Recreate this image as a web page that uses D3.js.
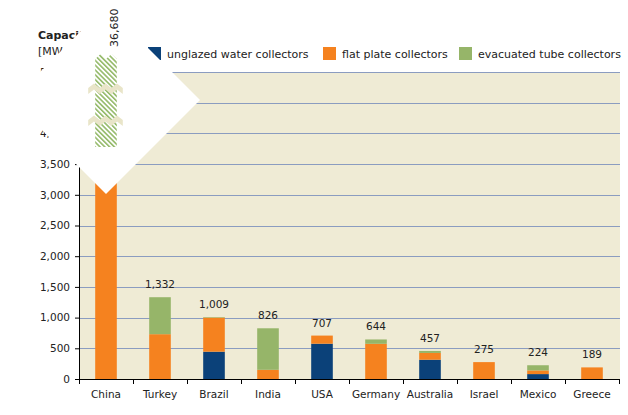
<!DOCTYPE html>
<html>
<head>
<meta charset="utf-8">
<script src="https://cdn.jsdelivr.net/npm/d3@7"></script>
<style>
  html, body { margin: 0; padding: 0; background: #ffffff; }
  svg { display: block; font-family: "DejaVu Sans", Verdana, sans-serif; }
</style>
</head>
<body>
<svg id="chart" width="628" height="415"></svg>
<script>
// ---- data ----
const categories = ["China","Turkey","Brazil","India","USA","Germany","Australia","Israel","Mexico","Greece"];
const unglazed   = [0,    0,   445, 0,   575, 0,   314, 0,   80, 0];
const flatPlate  = [4100, 730, 555, 150, 132, 573, 110, 275, 60, 189];
const evacuated  = [32580,602, 9,   676, 0,   71,  33,  0,   84, 0];
const seriesNames = ["unglazed water collectors","flat plate collectors","evacuated tube collectors"];
const yTicks = [0,500,1000,1500,2000,2500,3000,3500,4000,4500,5000];
const brokenLabel = "36,680";

// ---- styles ----
const colors = ["#0b4179", "#f5821f", "#96b569"];
const bg = "#efebd5";
const gridColor = "#8b9cc0";

const svg = d3.select("#chart");
const margin = {left: 79, right: 619, top: 72, bottom: 379};

const keys = ["u","f","e"];
const rows = categories.map((c,i) => ({cat: c, u: unglazed[i], f: flatPlate[i], e: evacuated[i]}));
const stacked = d3.stack().keys(keys)(rows);
const totals = rows.map(r => r.u + r.f + r.e);

const x = d3.scaleBand().domain(categories).range([margin.left, margin.right]).paddingInner(0.6).paddingOuter(0.3);
const xOuter = d3.scaleBand().domain(categories).range([margin.left, margin.right]).padding(0);
const y = d3.scaleLinear().domain([0, 5000]).range([margin.bottom, margin.top]);

// plot background
svg.append("rect").attr("x", margin.left).attr("y", y(5000))
  .attr("width", margin.right - margin.left + 1).attr("height", y(0) - y(5000)).attr("fill", bg);

// gridlines
svg.append("g").selectAll("line").data(yTicks.filter(v => v > 0)).join("line")
  .attr("x1", margin.left).attr("x2", margin.right + 1)
  .attr("y1", d => Math.round(y(d)) + 0.5).attr("y2", d => Math.round(y(d)) + 0.5)
  .attr("stroke", gridColor).attr("stroke-width", 1);

// clip
svg.append("clipPath").attr("id", "plotclip").append("rect")
  .attr("x", margin.left).attr("y", y(5000)).attr("width", margin.right - margin.left).attr("height", y(0) - y(5000));

// bars
const barsG = svg.append("g").attr("clip-path", "url(#plotclip)");
stacked.forEach((layer, li) => {
  barsG.append("g").attr("fill", colors[li]).selectAll("rect").data(layer).join("rect")
    .attr("x", d => x(d.data.cat))
    .attr("width", x.bandwidth())
    .attr("y", d => y(d[1]))
    .attr("height", d => Math.max(0, y(d[0]) - y(d[1])));
});

// value labels (not China)
svg.append("g").selectAll("text").data(categories.map((c,i) => ({c, t: totals[i]})).filter(d => d.c !== "China")).join("text")
  .attr("x", d => x(d.c) + x.bandwidth()/2)
  .attr("y", d => y(d.t) - 9)
  .attr("text-anchor", "middle").attr("font-size", "10.5px").attr("fill", "#222")
  .text(d => d3.format(",")(d.t));

// y axis
const yAxis = d3.axisLeft(y).tickValues(yTicks).tickFormat(d3.format(",")).tickSize(4).tickPadding(5);
const yg = svg.append("g").attr("transform", `translate(${margin.left},0)`).call(yAxis);
yg.select(".domain").attr("stroke", "#000");
yg.selectAll(".tick line").attr("stroke", "#000");
yg.selectAll("text").attr("font-size", "10.5px").attr("fill", "#222").attr("font-family", "DejaVu Sans, Verdana, sans-serif");

// x axis
const xAxis = d3.axisBottom(xOuter).tickSize(0).tickPadding(12);
const xg = svg.append("g").attr("transform", `translate(0,${margin.bottom})`).call(xAxis);
xg.select(".domain").remove();
xg.selectAll("text").attr("font-size", "10.5px").attr("fill", "#222").attr("font-family", "DejaVu Sans, Verdana, sans-serif");
svg.append("line").attr("x1", margin.left).attr("x2", margin.right).attr("y1", y(0) + 0.5).attr("y2", y(0) + 0.5).attr("stroke", "#000");
const bounds = categories.map(c => xOuter(c)).concat([margin.right]);
svg.append("g").selectAll("line").data(bounds).join("line")
  .attr("x1", d => Math.round(d) + 0.5).attr("x2", d => Math.round(d) + 0.5)
  .attr("y1", y(0)).attr("y2", y(0) + 5).attr("stroke", "#000");

// y title
svg.append("text").attr("x", 38).attr("y", 39).attr("font-size", "11px").attr("font-weight", "bold").attr("fill", "#222").text("Capacity");
const t2 = svg.append("text").attr("x", 38).attr("y", 55).attr("font-size", "11px").attr("fill", "#222");
t2.append("tspan").text("[MW");
t2.append("tspan").attr("font-size", "8px").attr("dy", 2).text("th");
t2.append("tspan").attr("dy", -2).text("]");

// legend
const legX = [148, 323, 459];
const leg = svg.append("g");
seriesNames.forEach((n, i) => {
  leg.append("rect").attr("x", legX[i]).attr("y", 47).attr("width", 13).attr("height", 13).attr("fill", colors[i]);
  leg.append("text").attr("x", legX[i] + 19).attr("y", 58).attr("font-size", "11px").attr("fill", "#222").text(n);
});

// white diamond overlay (axis break)
const cx = x("China") + x.bandwidth()/2;
const cy = 100, r = 94;
svg.append("polygon")
  .attr("points", [[cx, cy - r], [cx + r, cy], [cx, cy + r], [cx - r, cy]].map(p => p.join(",")).join(" "))
  .attr("fill", "#ffffff");

// hatched broken bar segment
const defs = svg.append("defs");
const pat = defs.append("pattern").attr("id", "hatch").attr("patternUnits", "userSpaceOnUse")
  .attr("width", 3.4).attr("height", 3.4).attr("patternTransform", "rotate(-45)");
pat.append("rect").attr("width", 3.4).attr("height", 3.4).attr("fill", "#ffffff");
pat.append("line").attr("x1", 0.8).attr("x2", 0.8).attr("y1", 0).attr("y2", 3.4).attr("stroke", "#8cb55e").attr("stroke-width", 1.5);

const bx0 = x("China"), bx1 = x("China") + x.bandwidth();
const bw = x.bandwidth();
const topY = 56, botY = 147;
svg.append("path")
  .attr("d", `M${bx0},${topY+3} L${bx0+bw*0.25},${topY-2} L${bx0+bw*0.5},${topY+3} L${bx0+bw*0.75},${topY-2} L${bx1},${topY+3} L${bx1},${botY} L${bx0},${botY} Z`)
  .attr("fill", "url(#hatch)");

// break bands
function breakBand(yc) {
  const xs0 = bx0 - 7, xs1 = bx1 + 6, n = 6, step = (xs1 - xs0) / n, h = 6;
  let top = [], bot = [];
  for (let i = 0; i <= n; i++) {
    const xx = xs0 + i * step;
    const yy = yc + (i % 2 === 0 ? 2 : -2.5);
    top.push([xx, yy - h/2]);
    bot.push([xx, yy + h/2]);
  }
  const pts = top.concat(bot.reverse());
  svg.append("path").attr("d", "M" + pts.map(p => p.join(",")).join("L") + "Z").attr("fill", "#e9e5c9");
}
breakBand(89);
breakBand(121);

// broken bar label
svg.append("text")
  .attr("transform", `translate(${bx0 + bw*0.5 + 12},47) rotate(-90)`)
  .attr("font-size", "11px").attr("fill", "#222").attr("text-anchor", "start")
  .text(brokenLabel);
</script>
</body>
</html>
